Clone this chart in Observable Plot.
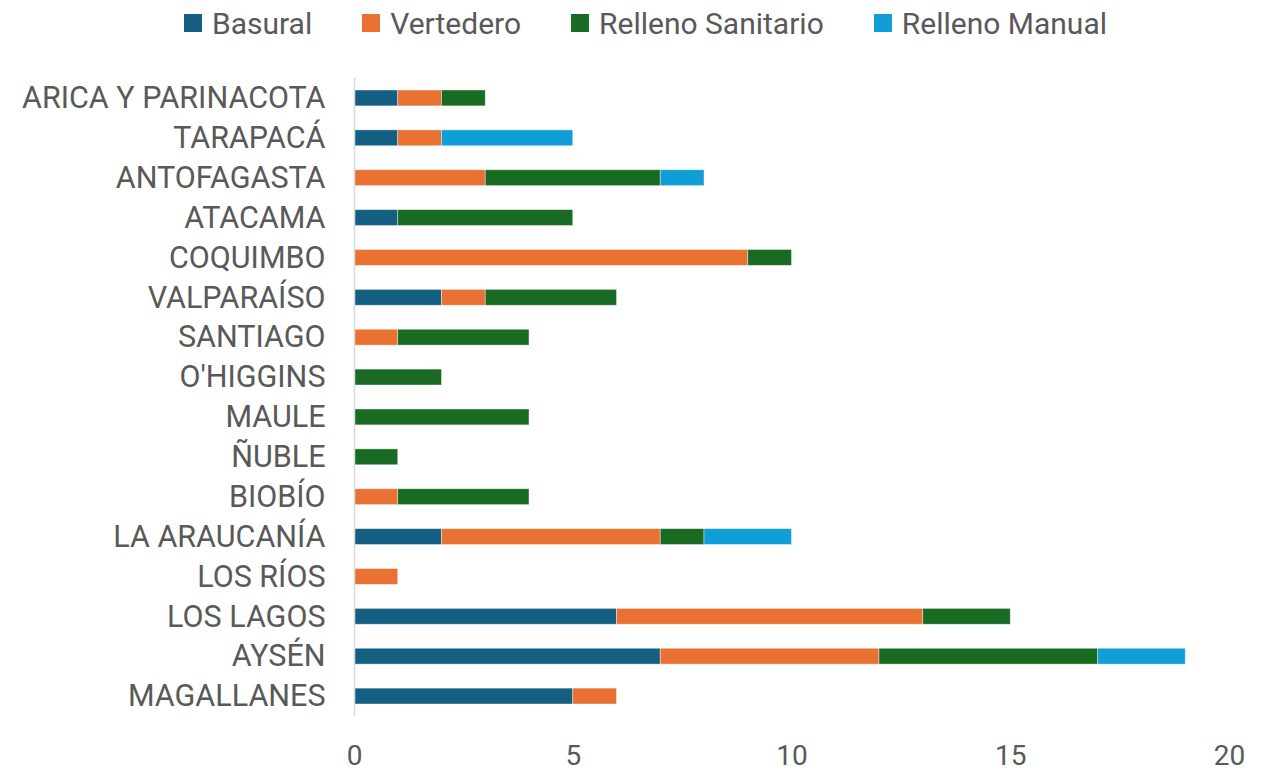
<!DOCTYPE html>
<html>
<head>
<meta charset="utf-8">
<script src="https://cdn.jsdelivr.net/npm/d3@7"></script>
<script src="https://cdn.jsdelivr.net/npm/@observablehq/plot@0.6"></script>
<style>
  body { margin: 0; background: #fff; font-family: Roboto, "Liberation Sans", sans-serif; }
  #legend { height: 46px; display: flex; justify-content: center; align-items: center; gap: 50px; padding-left: 20px; box-sizing: border-box; }
  .item { display: flex; align-items: center; font-size: 30px; color: #595959; }
  .sw { width: 18px; height: 18px; margin-right: 10px; }
</style>
</head>
<body>
<div id="legend"></div>
<div id="chart"></div>
<script>
const regions = ["ARICA Y PARINACOTA","TARAPACÁ","ANTOFAGASTA","ATACAMA","COQUIMBO","VALPARAÍSO","SANTIAGO","O'HIGGINS","MAULE","ÑUBLE","BIOBÍO","LA ARAUCANÍA","LOS RÍOS","LOS LAGOS","AYSÉN","MAGALLANES"];
const seriesNames = ["Basural","Vertedero","Relleno Sanitario","Relleno Manual"];
const basural          = [1,1,0,1,0,2,0,0,0,0,0,2,0,6,7,5];
const vertedero        = [1,1,3,0,9,1,1,0,0,0,1,5,1,7,5,1];
const rellenoSanitario = [1,0,4,4,1,3,3,2,4,1,3,1,0,2,5,0];
const rellenoManual    = [0,3,1,0,0,0,0,0,0,0,0,2,0,0,2,0];
const colors = ["#156082","#E97132","#196B24","#0F9ED5"];
const xTicks = [0,5,10,15,20];

const seriesValues = [basural, vertedero, rellenoSanitario, rellenoManual];
const data = [];
regions.forEach((r, i) => {
  seriesNames.forEach((s, j) => {
    const v = seriesValues[j][i];
    if (v > 0) data.push({region: r, series: s, value: v});
  });
});

const legend = document.getElementById("legend");
seriesNames.forEach((s, j) => {
  const it = document.createElement("div");
  it.className = "item";
  it.innerHTML = `<div class="sw" style="background:${colors[j]}"></div><span>${s}</span>`;
  legend.appendChild(it);
});

const chart = Plot.plot({
  width: 1271,
  height: 724,
  marginTop: 32,
  marginBottom: 54,
  marginLeft: 354,
  marginRight: 42,
  style: {fontFamily: "Roboto, 'Liberation Sans', sans-serif", fontSize: "30.5px", color: "#595959", background: "#fff", overflow: "visible"},
  x: {domain: [0, 20], ticks: xTicks, tickSize: 0, tickPadding: 29, label: null},
  y: {domain: regions, padding: 0, round: false, tickSize: 0, tickPadding: 29, label: null},
  color: {domain: seriesNames, range: colors},
  marks: [
    Plot.barX(data, {x: "value", y: "region", fill: "series", insetTop: 12, insetBottom: 12, stroke: "white", strokeOpacity: 0.5, strokeWidth: 0.8}),
    Plot.ruleX([0], {stroke: "#d9d9d9", strokeWidth: 1.5}),
    Plot.axisX({ticks: xTicks, tickSize: 0, tickPadding: 29, fontSize: 28, label: null})
  ]
});
document.getElementById("chart").appendChild(chart);
</script>
</body>
</html>
